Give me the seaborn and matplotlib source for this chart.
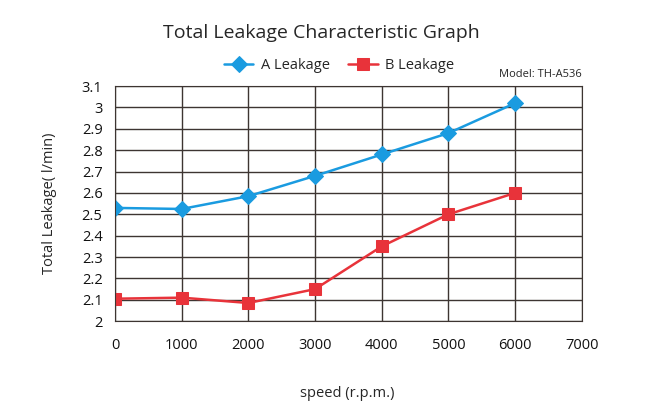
import pandas as pd
from matplotlib import pyplot as plt
import seaborn as sns

speed = [0, 1000, 2000, 3000, 4000, 5000, 6000]
a_leakage = [2.53, 2.525, 2.585, 2.68, 2.78, 2.88, 3.02]
b_leakage = [2.105, 2.11, 2.085, 2.15, 2.35, 2.50, 2.60]
x_ticks = [0, 1000, 2000, 3000, 4000, 5000, 6000, 7000]
y_ticks = [2, 2.1, 2.2, 2.3, 2.4, 2.5, 2.6, 2.7, 2.8, 2.9, 3, 3.1]

df = pd.DataFrame({'speed': speed, 'A Leakage': a_leakage, 'B Leakage': b_leakage})

sns.set_style('white')
plt.rcParams['font.family'] = ['Open Sans', 'DejaVu Sans']

fig = plt.figure(figsize=(6.5, 4.16), dpi=100)
ax = fig.add_axes([0.177, 0.228, 0.718, 0.565])

sns.lineplot(data=df, x='speed', y='A Leakage', ax=ax, color='#1a9be0', marker='D',
             markersize=8, markeredgecolor='#1a9be0', linewidth=1.8, label='A Leakage')
sns.lineplot(data=df, x='speed', y='B Leakage', ax=ax, color='#e8333a', marker='s',
             markersize=8, markeredgecolor='#e8333a', linewidth=1.8, label='B Leakage')

ax.set_xlim(0, 7000)
ax.set_ylim(2, 3.1)
ax.set_xticks(x_ticks)
ax.set_yticks(y_ticks)
ax.set_xticklabels([str(t) for t in x_ticks])
ax.set_yticklabels(['{:g}'.format(t) for t in y_ticks])
ax.grid(True, color='#3d3532', linewidth=1)
for s in ax.spines.values():
    s.set_color('#3d3532')
ax.tick_params(axis='x', length=0, labelsize=10.5, colors='#111111', pad=12)
ax.tick_params(axis='y', length=0, labelsize=10.5, colors='#111111', pad=9)

ax.set_xlabel('')
fig.text(0.535, 0.055, 'speed (r.p.m.)', ha='center', va='center', fontsize=10.5)
ax.set_ylabel('Total Leakage( l/min)', fontsize=10.5, labelpad=18)

ax.legend(loc='lower center', bbox_to_anchor=(0.48, 1.0), ncol=2, frameon=False,
          fontsize=10.5, handlelength=2.0, columnspacing=1.3, handletextpad=0.5)
fig.text(0.495, 0.92, 'Total Leakage Characteristic Graph', ha='center', va='center',
         fontsize=14)
fig.text(0.895, 0.82, 'Model: TH-A536', ha='right', va='center', fontsize=8)

plt.savefig('out.png', dpi=100)
